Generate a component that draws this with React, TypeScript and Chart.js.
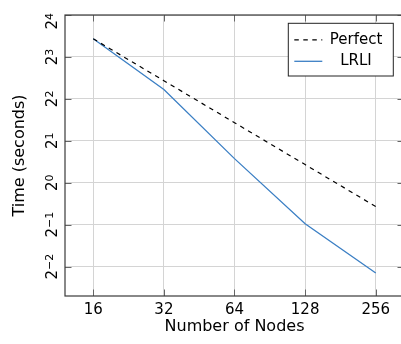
import React, { useEffect, useRef } from 'react';
import { Chart, registerables } from 'chart.js';

Chart.register(...registerables);

const FAMILY = "'DejaVu Sans', sans-serif";

const nodes = [16, 32, 64, 128, 256];
const perfect = [10.8, 5.4, 2.7, 1.35, 0.675];
const lrli = [10.8, 4.67, 1.49, 0.508, 0.225];
const xTickValues = [16, 32, 64, 128, 256];
const yExponents = [-2, -1, 0, 1, 2, 3, 4];
const seriesNames = ['Perfect', 'LRLI'];
const xTitle = 'Number of Nodes';
const yTitle = 'Time (seconds)';

const BLUE = '#3b7fc4';

const decor = {
  id: 'decor',
  afterDraw(chart: any) {
    const { ctx, chartArea: ca, scales } = chart;
    ctx.save();
    // inner tick marks
    ctx.strokeStyle = '#666';
    ctx.lineWidth = 1;
    const tl = 6.5;
    for (const v of xTickValues) {
      const x = Math.round(scales.x.getPixelForValue(v)) + 0.5;
      ctx.beginPath();
      ctx.moveTo(x, ca.bottom); ctx.lineTo(x, ca.bottom - tl);
      ctx.moveTo(x, ca.top); ctx.lineTo(x, ca.top + tl);
      ctx.stroke();
    }
    for (const e of yExponents) {
      const y = Math.round(scales.y.getPixelForValue(Math.pow(2, e))) + 0.5;
      ctx.beginPath();
      ctx.moveTo(ca.left, y); ctx.lineTo(ca.left + tl, y);
      ctx.moveTo(ca.right, y); ctx.lineTo(ca.right - tl, y);
      ctx.stroke();
    }
    // frame
    ctx.strokeStyle = '#3a3a3a';
    ctx.lineWidth = 1.2;
    ctx.strokeRect(ca.left, ca.top, ca.right - ca.left, ca.bottom - ca.top);

    // y tick labels (rotated, with superscript exponent)
    ctx.fillStyle = '#000';
    for (const e of yExponents) {
      const yTick = scales.y.getPixelForValue(Math.pow(2, e));
      const base = '2';
      const exp = e < 0 ? '\u2212' + String(-e) : String(e);
      ctx.font = `15px ${FAMILY}`;
      const wb = ctx.measureText(base).width;
      ctx.font = `11px ${FAMILY}`;
      const we = ctx.measureText(exp).width;
      const total = wb + we;
      const y = Math.max(yTick, 13 + total / 2);
      ctx.save();
      ctx.translate(57, y);
      ctx.rotate(-Math.PI / 2);
      ctx.textAlign = 'left';
      ctx.textBaseline = 'alphabetic';
      ctx.font = `15px ${FAMILY}`;
      ctx.fillText(base, -total / 2, 0);
      ctx.font = `11px ${FAMILY}`;
      ctx.fillText(exp, -total / 2 + wb, -4);
      ctx.restore();
    }

    // legend
    const w = 105, h = 52.7;
    const lx = ca.right - 10.7 - w;
    const ly = ca.top + 8.3;
    ctx.fillStyle = '#fff';
    ctx.fillRect(lx, ly, w, h);
    ctx.strokeStyle = '#222';
    ctx.lineWidth = 1;
    ctx.strokeRect(lx, ly, w, h);
    const rows = [ly + 16.5, ly + 38];
    const styles = [
      { color: '#000', dash: [4.5, 4.5], width: 1.2 },
      { color: BLUE, dash: [], width: 1.3 },
    ];
    seriesNames.forEach((name, i) => {
      const st = styles[i];
      ctx.strokeStyle = st.color;
      ctx.lineWidth = st.width;
      ctx.setLineDash(st.dash);
      ctx.beginPath();
      ctx.moveTo(lx + 6, rows[i]);
      ctx.lineTo(lx + 34, rows[i]);
      ctx.stroke();
      ctx.setLineDash([]);
      ctx.fillStyle = '#000';
      ctx.font = `15px ${FAMILY}`;
      ctx.textAlign = 'center';
      ctx.textBaseline = 'middle';
      ctx.fillText(name, lx + 67.7, rows[i]);
    });
    ctx.restore();
  },
};

export default function App() {
  const ref = useRef<HTMLCanvasElement>(null);
  useEffect(() => {
    if (!ref.current) return;
    const chart = new Chart(ref.current, {
      type: 'line',
      data: {
        datasets: [
          {
            label: seriesNames[0],
            data: nodes.map((n, i) => ({ x: n, y: perfect[i] })),
            borderColor: '#000',
            borderWidth: 1.2,
            borderDash: [4.5, 4.5],
            pointRadius: 0,
            fill: false,
          },
          {
            label: seriesNames[1],
            data: nodes.map((n, i) => ({ x: n, y: lrli[i] })),
            borderColor: BLUE,
            borderWidth: 1.3,
            pointRadius: 0,
            fill: false,
          },
        ],
      },
      options: {
        animation: false,
        responsive: false,
        maintainAspectRatio: false,
        layout: { padding: { top: 15, left: 0, right: 0, bottom: 0 } },
        plugins: { legend: { display: false }, tooltip: { enabled: false } },
        scales: {
          x: {
            type: 'logarithmic',
            min: Math.pow(2, 3.6),
            max: Math.pow(2, 8.4),
            afterBuildTicks: (s: any) => {
              s.ticks = xTickValues.map((v) => ({ value: v }));
            },
            afterFit: (s: any) => {
              s.height = 48;
            },
            ticks: {
              callback: (v: any) => String(v),
              font: { size: 15, family: FAMILY },
              color: '#000',
              padding: 5,
              maxRotation: 0,
              autoSkip: false,
            },
            grid: { color: '#d4d4d4', drawTicks: false, lineWidth: 1 },
            border: { display: false },
            title: {
              display: true,
              text: xTitle,
              font: { size: 16, family: FAMILY },
              color: '#000',
              padding: { top: 0, bottom: 8 },
            },
          },
          y: {
            type: 'logarithmic',
            min: Math.pow(2, -2.7),
            max: Math.pow(2, 4),
            afterBuildTicks: (s: any) => {
              s.ticks = yExponents.map((e) => ({ value: Math.pow(2, e) }));
            },
            afterFit: (s: any) => {
              s.width = 65;
            },
            ticks: { display: false },
            grid: { color: '#d4d4d4', drawTicks: false, lineWidth: 1 },
            border: { display: false },
            title: {
              display: true,
              text: yTitle,
              font: { size: 16, family: FAMILY },
              color: '#000',
              padding: { top: 10, bottom: 0 },
            },
          },
        },
      },
      plugins: [decor],
    } as any);
    return () => chart.destroy();
  }, []);
  return (
    <div style={{ position: 'fixed', left: 0, top: 0, width: 401, height: 344, overflow: 'hidden', background: '#fff' }}>
      <canvas ref={ref} width={404} height={344} style={{ display: 'block', width: 404, height: 344 }} />
    </div>
  );
}
